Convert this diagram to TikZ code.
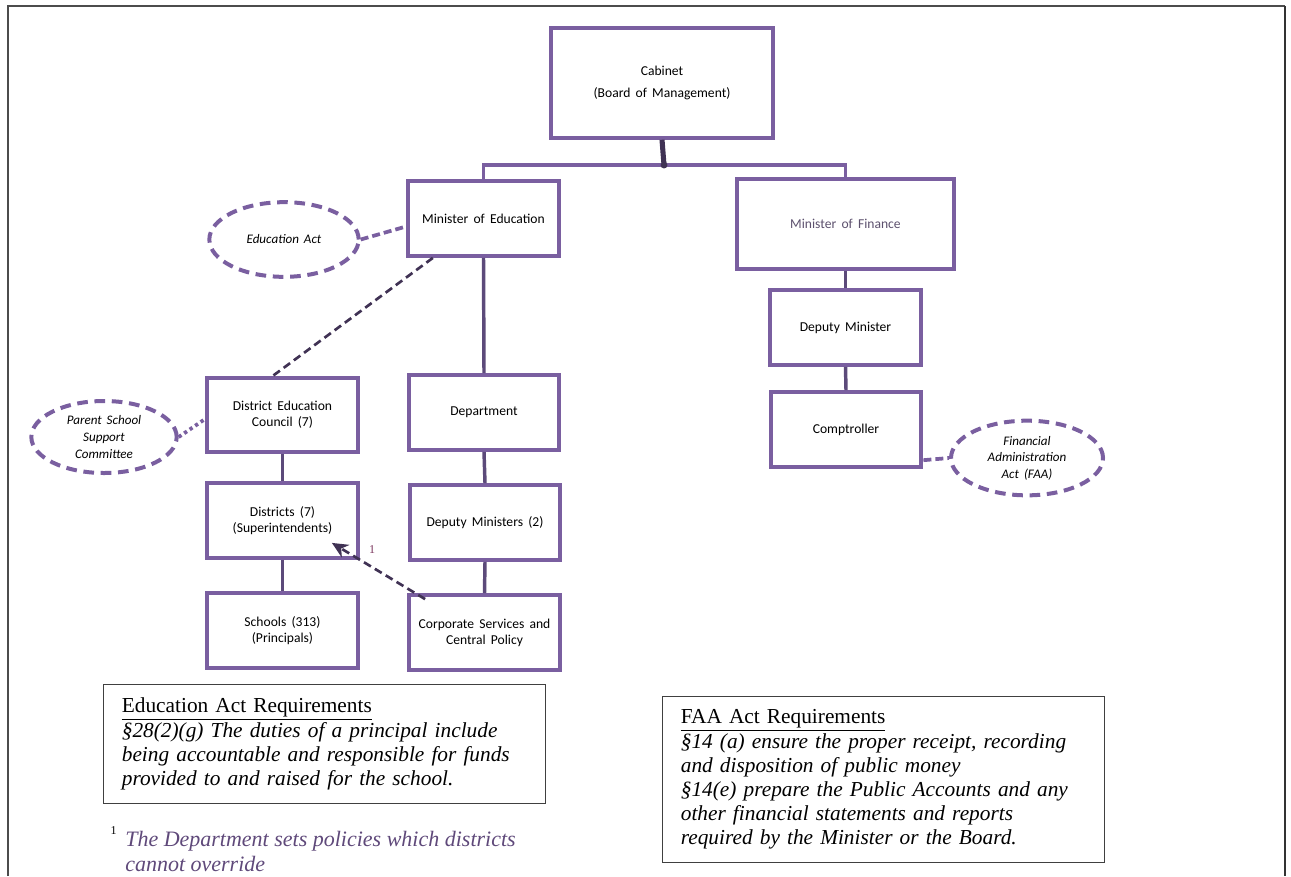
\documentclass[tikz,border=0pt]{standalone}
\usepackage{fontspec}
\setmainfont{Liberation Serif}
\newfontfamily\boxfont[WordSpace=1.7]{Carlito}
\usetikzlibrary{shapes.geometric,arrows.meta}
\definecolor{boxline}{RGB}{122,95,160}
\definecolor{linkline}{RGB}{92,74,122}
\definecolor{darklink}{RGB}{64,50,84}
\definecolor{fnote}{RGB}{95,73,122}
\definecolor{fnnum}{RGB}{122,52,92}
\tikzset{
  orgbox/.style={draw=boxline,line width=3.1pt,fill=white,inner sep=0pt,
    minimum width=113pt,minimum height=56pt,align=center,
    font=\boxfont\fontsize{10.2}{12}\selectfont},
  actoval/.style={ellipse,draw=boxline,line width=3pt,dash pattern=on 8pt off 5pt,
    inner sep=0pt,align=center,font=\boxfont\itshape\fontsize{9.8}{12.4}\selectfont},
  link/.style={draw=linkline,line width=2.6pt},
  actlink/.style={draw=boxline,line width=2.8pt,dash pattern=on 6pt off 3pt},
  reqbox/.style={draw=black!75,line width=0.9pt,align=left,inner xsep=13.5pt,inner ysep=10pt,
    text width=304pt,font=\fontsize{16}{18}\selectfont}
}
\begin{document}
\begin{tikzpicture}[x=0.75pt,y=-0.75pt]
  \useasboundingbox (0,0) rectangle (1291,876);
  \draw[black!70,line width=1.2pt] (8,876) -- (8,6) -- (1285,6);
  \draw[black!80,line width=2.2pt] (1285,6) -- (1285,876);

  % top of the chart
  \node[orgbox,minimum width=166pt,minimum height=82pt] (cab) at (662,83)
    {Cabinet\\[5pt](Board  of Management)};
  \node[orgbox] (mined) at (483.5,218.5) {Minister of Education};
  \node[orgbox,minimum width=163pt,minimum height=67pt,text=darklink!85] (minfin) at (845.5,224) {Minister of Finance};
  \node[orgbox] (depmin) at (845.5,327.5) {Deputy Minister};
  \node[orgbox] (comp) at (846,429.5) {Comptroller};

  % education side
  \node[orgbox] (dec) at (282.5,415) {District Education\\Council (7)};
  \node[orgbox] (dept) at (484,412.5) {Department};
  \node[orgbox] (dist) at (282.5,520.5) {Districts (7)\\(Superintendents)};
  \node[orgbox] (depmins) at (485,522.5) {Deputy Ministers (2)};
  \node[orgbox] (schools) at (282.5,630.5) {Schools (313)\\(Principals)};
  \node[orgbox] (corp) at (484.5,632.5) {Corporate Services and\\Central Policy};

  % acts
  \node[actoval,minimum width=112pt,minimum height=56pt] (edact) at (284,239.5) {Education Act};
  \node[actoval,minimum width=109pt,minimum height=54pt] (pssc) at (104,437) {Parent School\\Support\\Committee};
  \node[actoval,minimum width=114pt,minimum height=56pt] (faa) at (1027,458) {Financial\\Administration\\Act (FAA)};

  \coordinate (bus) at (664,165);
  \draw[darklink,line width=3.8pt] (cab.south) -- (bus);
  \draw[link,draw=boxline] (mined.north) |- (bus) -| (minfin.north);
  \fill[darklink] (bus) circle (2.6pt);

  \foreach \a/\b in {mined/dept,dept/depmins,depmins/corp,dec/dist,dist/schools,minfin/depmin,depmin/comp}
    \draw[link] (\a.south) -- (\b.north);

  \draw[actlink] (edact.east) -- ([yshift=-6pt]mined.west);
  \draw[actlink,dash pattern=on 2.5pt off 2.5pt] (pssc.east) -- ([yshift=-3pt]dec.west);
  \draw[actlink] ([yshift=-23pt]comp.east) -- (faa.west);
  \draw[darklink,line width=2pt,dash pattern=on 6pt off 3.5pt]
    ([xshift=-38pt]mined.south) -- ([xshift=-7pt]dec.north);
  \draw[darklink,line width=2pt,dash pattern=on 6pt off 3.5pt,-{Stealth[length=12pt,width=11pt]}]
    ([xshift=13.5pt,yshift=-4.5pt]corp.north west) -- ([xshift=-21pt,yshift=12.75pt]dist.south east);
  \node[text=fnnum,font=\fontsize{9}{10}\selectfont] (fnmark) at (372,550) {1};

  % requirement boxes
  \node[reqbox] (edreq) at (324.5,744)
    {\underline{Education Act Requirements}\\[1pt]
     \itshape \S28(2)(g) The duties of a principal include\\
     being accountable and responsible for funds\\
     provided to and raised for the school.};
  \node[reqbox] (faareq) at (883.5,779.5)
    {\underline{FAA Act Requirements}\\[1pt]
     \itshape \S14 (a) ensure the proper receipt, recording\\
     and disposition of public money\\
     \S14(e) prepare the Public Accounts and any\\
     other financial statements and reports\\
     required by the Minister or the Board.};

  \node[anchor=base west,font=\fontsize{9}{10}\selectfont] (fnnum) at (106,834) {1};
  \node[anchor=north west,align=left,inner sep=0pt,text=fnote,
    font=\itshape\fontsize{16.5}{18.5}\selectfont] (fntext) at (125,831)
    {The Department sets policies which districts\\cannot override};
\end{tikzpicture}
\end{document}
